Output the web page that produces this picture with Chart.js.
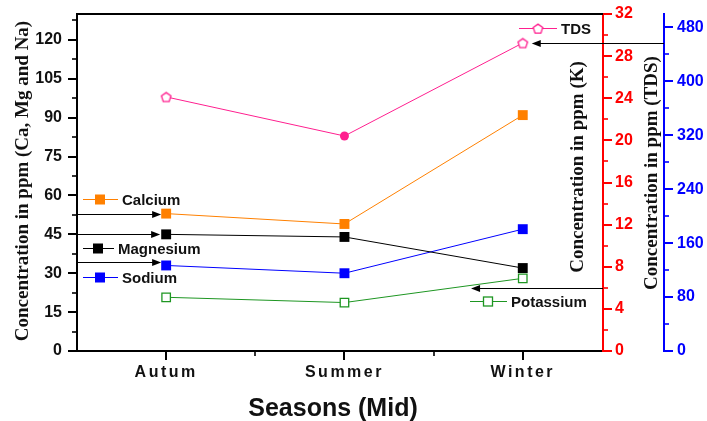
<!DOCTYPE html>
<html>
<head>
<meta charset="utf-8">
<script src="https://cdn.jsdelivr.net/npm/chart.js@4.4.1/dist/chart.umd.min.js"></script>
<style>
  html, body { margin: 0; padding: 0; background: #fff; }
</style>
</head>
<body>
<canvas id="seasonChart" width="707" height="421"></canvas>
<script>
// --- data ---
const seasons = ['Autum', 'Summer', 'Winter'];
const calcium = [53, 49, 91];
const magnesium = [45, 44, 32];
const sodium = [33, 30, 47];
const potassium = [5.1, 4.6, 6.9];
const tds = [377, 319, 457];

const leftTicks = [0, 15, 30, 45, 60, 75, 90, 105, 120];
const kTicks = [0, 4, 8, 12, 16, 20, 24, 28, 32];
const tdsTicks = [0, 80, 160, 240, 320, 400, 480];

const SANS = '"Liberation Sans", Arial, sans-serif';
const SERIF = '"Liberation Serif", "Times New Roman", serif';
const PINK = '#ff1f8f';
const ORANGE = '#ff8000';
const GREEN = '#1e9622';
const BLUE = '#0000ff';
const RED = '#ff0000';

function pentagon(size, color) {
    const c = document.createElement('canvas');
    c.width = c.height = size;
    const g = c.getContext('2d');
    const r = size / 2 - 1.5;
    g.beginPath();
    for (let i = 0; i < 5; i++) {
        const a = -Math.PI / 2 + i * 2 * Math.PI / 5;
        const px = size / 2 + r * Math.cos(a);
        const py = size / 2 + 0.6 + r * Math.sin(a);
        if (i) g.lineTo(px, py); else g.moveTo(px, py);
    }
    g.closePath();
    g.fillStyle = '#fff';
    g.fill();
    g.strokeStyle = color;
    g.lineWidth = 1.3;
    g.stroke();
    return c;
}
const pent = pentagon(13, PINK);

function series(label, values, axis, color, extra) {
    return Object.assign({
        label: label,
        data: values.map((v, i) => ({ x: i + 1, y: v })),
        yAxisID: axis,
        borderColor: color,
        backgroundColor: color,
        borderWidth: 1,
        pointStyle: 'rect',
        pointRadius: 7,
        pointBorderWidth: 0,
        pointBackgroundColor: color,
        tension: 0
    }, extra || {});
}

function arrow(ctx, x1, y, x2, color) {
    const yy = Math.round(y) + 0.5;
    const d = Math.sign(x2 - x1);
    ctx.strokeStyle = color;
    ctx.fillStyle = color;
    ctx.lineWidth = 1;
    ctx.beginPath();
    ctx.moveTo(x1, yy);
    ctx.lineTo(x2 - d * 4, yy);
    ctx.stroke();
    ctx.beginPath();
    ctx.moveTo(x2, yy);
    ctx.lineTo(x2 - d * 9, yy - 3.5);
    ctx.lineTo(x2 - d * 9, yy + 3.5);
    ctx.closePath();
    ctx.fill();
}

function legendEntry(ctx, x0, x1, y, mx, color, marker, text) {
    const yy = Math.round(y) + 0.5;
    ctx.strokeStyle = color;
    ctx.lineWidth = 1;
    ctx.beginPath();
    ctx.moveTo(x0, yy);
    ctx.lineTo(x1, yy);
    ctx.stroke();
    if (marker === 'square') {
        ctx.fillStyle = color;
        ctx.fillRect(mx - 5, yy - 5, 10, 10);
    } else if (marker === 'open') {
        ctx.fillStyle = '#fff';
        ctx.fillRect(mx - 4.5, yy - 4.5, 9, 9);
        ctx.lineWidth = 1.3;
        ctx.strokeRect(mx - 4.5, yy - 4.5, 9, 9);
    } else {
        ctx.drawImage(pent, mx - pent.width / 2, yy - pent.height / 2);
    }
    ctx.fillStyle = '#111';
    ctx.font = 'bold 15px ' + SANS;
    ctx.textAlign = 'left';
    ctx.textBaseline = 'middle';
    ctx.fillText(text, x1 + 4, yy + 1);
}

function yTickMarks(ctx, scale, majors, edgeX, dir, color) {
    const step = majors[1] - majors[0];
    ctx.strokeStyle = color;
    for (let v = 0; v <= scale.max + 1e-9; v += step / 2) {
        const major = majors.includes(v);
        const y = Math.round(scale.getPixelForValue(v));
        ctx.lineWidth = major ? 2 : 1.6;
        ctx.beginPath();
        ctx.moveTo(edgeX, y);
        ctx.lineTo(edgeX + dir * (major ? 9 : 5), y);
        ctx.stroke();
    }
}

function vTitle(ctx, text, x, y) {
    ctx.save();
    ctx.translate(x, y);
    ctx.rotate(-Math.PI / 2);
    ctx.fillStyle = '#111';
    ctx.font = 'bold 19px ' + SERIF;
    ctx.textAlign = 'center';
    ctx.textBaseline = 'middle';
    ctx.fillText(text, 0, 0);
    ctx.restore();
}

const arrows = {
    id: 'arrows',
    beforeDatasetsDraw(chart) {
        const { ctx, chartArea: a, scales } = chart;
        const x = scales.x, yL = scales.yL, yK = scales.yK, yT = scales.yT;
        ctx.save();
        const xa = x.getPixelForValue(1);
        arrow(ctx, a.left, yL.getPixelForValue(calcium[0]), xa - 5, '#000');
        arrow(ctx, a.left, yL.getPixelForValue(magnesium[0]), xa - 6, '#000');
        arrow(ctx, a.left, yL.getPixelForValue(sodium[0]) - 3, xa - 5, '#000');
        arrow(ctx, yT.left, yT.getPixelForValue(tds[2]), x.getPixelForValue(3) + 9, '#000');
        arrow(ctx, yK.left, yK.getPixelForValue(6), x.getPixelForValue(2.71), '#000');
        ctx.restore();
    },
    afterDraw(chart) {
        const { ctx, chartArea: a, scales } = chart;
        const x = scales.x, yL = scales.yL, yK = scales.yK, yT = scales.yT;
        ctx.save();
        // top frame line
        ctx.strokeStyle = '#000';
        ctx.lineWidth = 2;
        ctx.beginPath();
        ctx.moveTo(a.left - 1, a.top);
        ctx.lineTo(a.right, a.top);
        ctx.stroke();

        // tick marks, outward
        yTickMarks(ctx, yL, leftTicks, a.left, -1, '#000');
        yTickMarks(ctx, yK, kTicks, yK.left, 1, RED);
        yTickMarks(ctx, yT, tdsTicks, yT.left, 1, BLUE);
        ctx.strokeStyle = '#000';
        [1, 1.5, 2, 2.5, 3].forEach(v => {
            const px = Math.round(x.getPixelForValue(v));
            const major = Number.isInteger(v);
            ctx.lineWidth = major ? 2 : 1.6;
            ctx.beginPath();
            ctx.moveTo(px, a.bottom);
            ctx.lineTo(px, a.bottom + (major ? 9 : 5));
            ctx.stroke();
        });

        // axis titles
        vTitle(ctx, 'Concentration in ppm (Ca, Mg and Na)', 23, 181);
        vTitle(ctx, 'Concentration in ppm (K)', 578, 167);
        vTitle(ctx, 'Concentration in ppm (TDS)', 652, 173);
        ctx.fillStyle = '#111';
        ctx.font = 'bold 25px ' + SANS;
        ctx.textAlign = 'center';
        ctx.textBaseline = 'middle';
        ctx.fillText('Seasons (Mid)', 333, 409);

        // in-plot legend entries
        legendEntry(ctx, 83, 118, 199, 100, ORANGE, 'square', 'Calcium');
        legendEntry(ctx, 83, 114, 248, 98, '#000', 'square', 'Magnesium');
        legendEntry(ctx, 83, 118, 277, 100, BLUE, 'square', 'Sodium');
        legendEntry(ctx, 470, 507, 301, 488, GREEN, 'open', 'Potassium');
        legendEntry(ctx, 519, 557, 28, 538, PINK, 'pent', 'TDS');
        ctx.restore();
    }
};

const tickFont = { family: SANS, size: 16, weight: 'bold' };

function fitY(width) {
    return s => {
        s.width = width;
        s.paddingTop = 0;
        s.paddingBottom = 0;
    };
}

new Chart(document.getElementById('seasonChart'), {
    type: 'line',
    data: {
        datasets: [
            series('TDS', tds, 'yT', PINK, {
                pointStyle: [pent, 'circle', pent],
                pointRadius: [7, 4.5, 7],
                pointBackgroundColor: PINK
            }),
            series('Calcium', calcium, 'yL', ORANGE),
            series('Magnesium', magnesium, 'yL', '#000'),
            series('Sodium', sodium, 'yL', BLUE),
            series('Potassium', potassium, 'yK', GREEN, {
                pointRadius: 6,
                pointBackgroundColor: '#fff',
                pointBorderColor: GREEN,
                pointBorderWidth: 1.3
            })
        ]
    },
    options: {
        responsive: false,
        animation: false,
        devicePixelRatio: 1,
        layout: { padding: { top: 14, left: 0, right: 0, bottom: 0 } },
        plugins: {
            legend: { display: false },
            tooltip: { enabled: false }
        },
        scales: {
            x: {
                type: 'linear',
                position: 'bottom',
                min: 0.5,
                max: 3.45,
                afterBuildTicks: s => { s.ticks = seasons.map((_, i) => ({ value: i + 1 })); },
                afterFit: s => {
                    s.height = 70;
                    s.paddingLeft = 0;
                    s.paddingRight = 0;
                    // the season labels are set with wide letter spacing
                    if (!s._spaced) {
                        const orig = s.drawLabels;
                        s.drawLabels = function (area) {
                            this.ctx.save();
                            this.ctx.letterSpacing = '2.5px';
                            orig.call(this, area);
                            this.ctx.restore();
                        };
                        s._spaced = true;
                    }
                },
                grid: { display: false, drawTicks: false },
                border: { color: '#000', width: 2 },
                ticks: {
                    callback: v => seasons[v - 1],
                    font: tickFont,
                    color: '#111',
                    padding: 12,
                    maxRotation: 0,
                    autoSkip: false
                }
            },
            yL: {
                type: 'linear',
                position: 'left',
                min: 0,
                max: 130,
                afterBuildTicks: s => { s.ticks = leftTicks.map(v => ({ value: v })); },
                afterFit: fitY(77),
                grid: { display: false, drawTicks: false },
                border: { color: '#000', width: 2 },
                ticks: { font: tickFont, color: '#111', padding: 15 }
            },
            yK: {
                type: 'linear',
                position: 'right',
                weight: 1,
                min: 0,
                max: 32,
                afterBuildTicks: s => { s.ticks = kTicks.map(v => ({ value: v })); },
                afterFit: fitY(61),
                grid: { display: false, drawTicks: false },
                border: { color: RED, width: 2 },
                ticks: { font: tickFont, color: RED, padding: 12 }
            },
            yT: {
                type: 'linear',
                position: 'right',
                weight: 2,
                min: 0,
                max: 500,
                afterBuildTicks: s => { s.ticks = tdsTicks.map(v => ({ value: v })); },
                afterFit: fitY(43),
                grid: { display: false, drawTicks: false },
                border: { color: BLUE, width: 2 },
                ticks: { font: tickFont, color: BLUE, padding: 13 }
            }
        }
    },
    plugins: [arrows]
});
</script>
</body>
</html>
